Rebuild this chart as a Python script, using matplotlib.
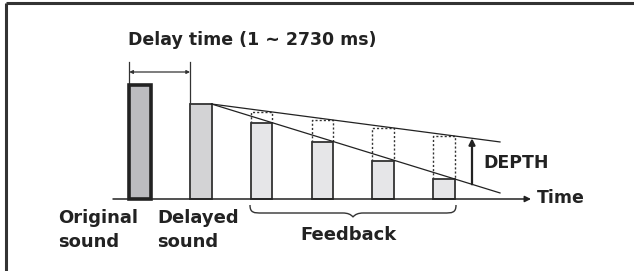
"""Delay effect diagram: original sound, delayed sound and feedback repeats."""

import numpy as np
import matplotlib

matplotlib.use("Agg")
import matplotlib.pyplot as plt
from matplotlib.patches import FancyArrowPatch, PathPatch
from matplotlib.path import Path

# amplitudes (pixel-height units above the time axis)
labels = ["Original\nsound", "Delayed\nsound"]
original_level = 114
delayed_level = 95
feedback_levels = [76, 57, 38, 20]
feedback_depth_levels = [87, 79, 71, 63]
title_text = "Delay time (1 ~ 2730 ms)"

W, H = 634, 271
BASE = H - 199
INK = "#222222"

fig = plt.figure(figsize=(W / 100, H / 100), dpi=100)
ax = fig.add_axes([0, 0, 1, 1])
ax.set_xlim(0, W)
ax.set_ylim(0, H)
ax.axis("off")


def py(y):
    return H - y


# frame (top and left edges only)
ax.plot([6, W], [py(3), py(3)], color="#333333", lw=2.2, solid_capstyle="butt")
ax.plot([6, 6], [py(3), 0], color="#333333", lw=2.2, solid_capstyle="butt")

slot0 = 140.0
slot_step = 60.8
bar_w = 21.5
centers = slot0 + slot_step * np.arange(2 + len(feedback_levels))

# bars
ax.bar(centers[0], original_level, width=bar_w, bottom=BASE, color="#bcbcc0",
       edgecolor=INK, linewidth=2.6, zorder=3)
ax.bar(centers[1], delayed_level, width=bar_w, bottom=BASE, color="#d3d3d5",
       edgecolor="#333333", linewidth=1.3, zorder=3)
fb_x = centers[2:]
ax.bar(fb_x, feedback_levels, width=bar_w, bottom=BASE, color="#e6e6e8",
       edgecolor="#333333", linewidth=1.3, zorder=3)

# dotted depth outlines above feedback bars
for x, lo, hi in zip(fb_x, feedback_levels, feedback_depth_levels):
    l, r = x - bar_w / 2, x + bar_w / 2
    ax.plot([l, l, r, r], [BASE + lo, BASE + hi, BASE + hi, BASE + lo],
            color="#333333", lw=1.0, ls=(0, (1.5, 1.5)), zorder=2)

# decay lines from the delayed bar top through feedback tops
x0 = centers[1] + bar_w / 2
y0 = BASE + delayed_level
x_end = 500
for levels in (feedback_levels, feedback_depth_levels):
    x1 = fb_x[-1] + bar_w / 2
    y1 = BASE + levels[-1]
    slope = (y1 - y0) / (x1 - x0)
    ax.plot([x0, x_end], [y0, y0 + slope * (x_end - x0)], color=INK, lw=0.9, zorder=4)

# time axis
ax.annotate("", xy=(531, BASE), xytext=(113, BASE),
            arrowprops=dict(arrowstyle="-|>", color=INK, lw=1.1,
                            mutation_scale=9, shrinkA=0, shrinkB=0), zorder=5)
ax.text(537, py(198), "Time", ha="left", va="center", fontsize=12.5,
        fontweight="bold", color=INK)

# depth arrow
dx = 472
lo_y = y0 + (BASE + feedback_levels[-1] - y0) / (fb_x[-1] + bar_w / 2 - x0) * (dx - x0)
hi_y = y0 + (BASE + feedback_depth_levels[-1] - y0) / (fb_x[-1] + bar_w / 2 - x0) * (dx - x0)
ax.annotate("", xy=(dx, hi_y), xytext=(dx, lo_y),
            arrowprops=dict(arrowstyle="-|>", color=INK, lw=1.6,
                            mutation_scale=9, shrinkA=0, shrinkB=0), zorder=5)
ax.text(483, py(163), "DEPTH", ha="left", va="center", fontsize=12.5,
        fontweight="bold", color=INK)

# delay time dimension line
xl = centers[0] - bar_w / 2
xr = centers[1] - bar_w / 2
ax.plot([xl, xl], [py(62), BASE + original_level + 2], color="#333333", lw=0.9)
ax.plot([xr, xr], [py(62), BASE + delayed_level], color="#333333", lw=0.9)
ax.annotate("", xy=(xr, py(72)), xytext=(xl, py(72)),
            arrowprops=dict(arrowstyle="<|-|>", color="#333333", lw=0.9,
                            mutation_scale=5, shrinkA=0, shrinkB=0))
ax.text(128, py(40), title_text, ha="left", va="center", fontsize=12.5,
        fontweight="bold", color=INK)

# labels under the first two bars
ax.text(58, py(230), labels[0], ha="left", va="center", fontsize=13,
        fontweight="bold", color=INK, linespacing=1.45)
ax.text(157, py(230), labels[1], ha="left", va="center", fontsize=13,
        fontweight="bold", color=INK, linespacing=1.45)

# curly brace under the feedback bars
bl, br, bm = 250, 456, 353
top, mid, tip = py(205), py(213), py(217)
verts = [
    (bl, top), (bl, mid), (bl + 4, mid), (bl + 12, mid),
    (bm - 10, mid), (bm - 3, mid), (bm, tip),
    (bm + 3, mid), (bm + 10, mid),
    (br - 12, mid), (br - 4, mid), (br, mid), (br, top),
]
codes = [Path.MOVETO, Path.CURVE4, Path.CURVE4, Path.CURVE4,
         Path.LINETO, Path.CURVE3, Path.CURVE3,
         Path.CURVE3, Path.CURVE3,
         Path.LINETO, Path.CURVE4, Path.CURVE4, Path.CURVE4]
ax.add_patch(PathPatch(Path(verts, codes), fill=False, edgecolor="#333333", lw=1.0))
ax.text(348, py(235), "Feedback", ha="center", va="center", fontsize=13,
        fontweight="bold", color=INK)

fig.savefig("out.png", dpi=100)
